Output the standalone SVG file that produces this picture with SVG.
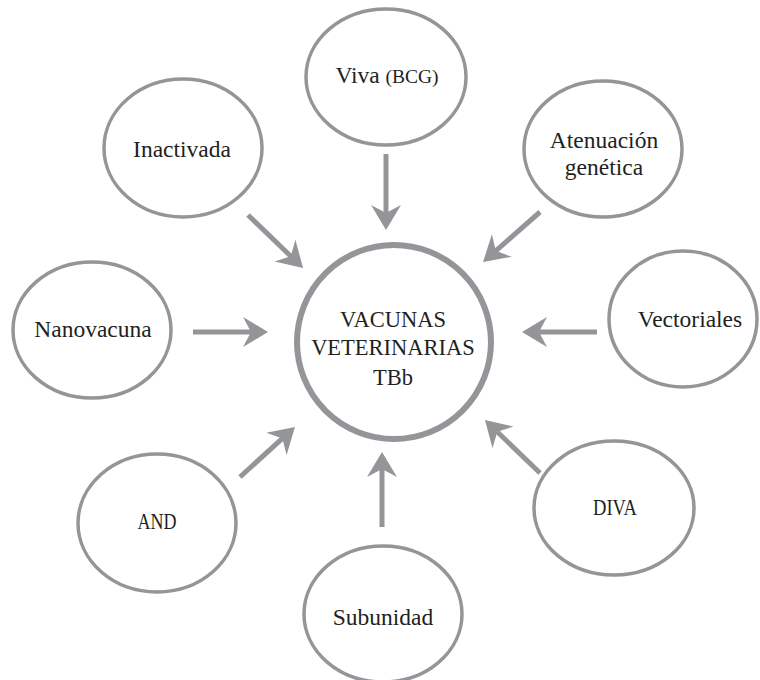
<svg xmlns="http://www.w3.org/2000/svg" width="760" height="680" viewBox="0 0 760 680">
<defs>
<style>
.node{fill:#fff;stroke:#939598;stroke-width:3.5}
.hub{fill:#fff;stroke:#939598;stroke-width:6}
text{font-family:'Liberation Serif','Times New Roman',serif;fill:#231f20;text-anchor:middle}
.lbl{font-size:23.5px}
.hubl{font-size:22.5px}
.arr{stroke:#939598;stroke-width:5;fill:none;marker-end:url(#ah)}
</style>
<marker id="ah" markerUnits="userSpaceOnUse" viewBox="-10 -16 30 32" refX="0" refY="0" markerWidth="30" markerHeight="32" orient="auto">
<path d="M17,0 L-8,-15 L0,0 L-8,15 Z" fill="#939598"/>
</marker>
</defs>
<rect width="760" height="680" fill="#fff"/>
<g id="connectors">
<line class="arr" x1="386" y1="154" x2="386" y2="213"/>
<line class="arr" x1="248" y1="215" x2="290.8" y2="256.2"/>
<line class="arr" x1="540" y1="212" x2="495.8" y2="250.8"/>
<line class="arr" x1="193" y1="332" x2="251" y2="332"/>
<line class="arr" x1="597" y1="332" x2="539" y2="332"/>
<line class="arr" x1="240" y1="477" x2="282.4" y2="438.4"/>
<line class="arr" x1="540" y1="473" x2="497.2" y2="431.8"/>
<line class="arr" x1="382" y1="527" x2="382" y2="469"/>
</g>
<g id="hub">
<circle class="hub" cx="394" cy="342" r="97"/>
<text class="hubl" x="393" y="327">VACUNAS</text>
<text class="hubl" x="393" y="355">VETERINARIAS</text>
<text class="hubl" x="393" y="385">TBb</text>
</g>
<g id="viva">
<ellipse class="node" cx="386" cy="77" rx="80" ry="68"/>
<text class="lbl" x="387" y="83">Viva <tspan font-size="19.5">(BCG)</tspan></text>
</g>
<g id="inactivada">
<ellipse class="node" cx="183" cy="148" rx="79" ry="69"/>
<text class="lbl" x="182" y="157">Inactivada</text>
</g>
<g id="atenuacion">
<ellipse class="node" cx="603" cy="149" rx="79" ry="68"/>
<text class="lbl" x="604" y="148">Atenuación</text>
<text class="lbl" x="604" y="175">genética</text>
</g>
<g id="nanovacuna">
<ellipse class="node" cx="92" cy="330" rx="79" ry="68"/>
<text class="lbl" x="93" y="337">Nanovacuna</text>
</g>
<g id="vectoriales">
<ellipse class="node" cx="683" cy="319" rx="74" ry="68"/>
<text class="lbl" x="690" y="327">Vectoriales</text>
</g>
<g id="and">
<ellipse class="node" cx="157" cy="523" rx="79" ry="69"/>
<text class="lbl" x="157" y="529" font-size="21" textLength="39" lengthAdjust="spacingAndGlyphs">AND</text>
</g>
<g id="diva">
<ellipse class="node" cx="614" cy="508" rx="80" ry="67"/>
<text class="lbl" x="615" y="515" font-size="21" textLength="44" lengthAdjust="spacingAndGlyphs">DIVA</text>
</g>
<g id="subunidad">
<ellipse class="node" cx="383" cy="614" rx="79" ry="68"/>
<text class="lbl" x="383" y="625">Subunidad</text>
</g>
</svg>
